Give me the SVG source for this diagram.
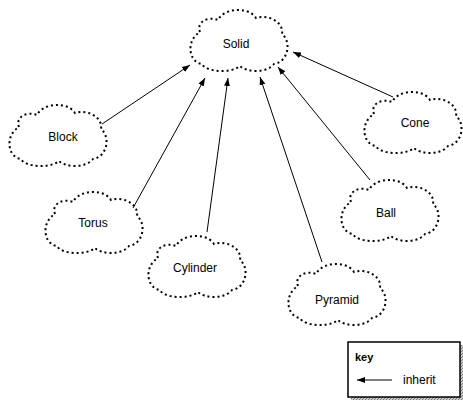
<svg xmlns="http://www.w3.org/2000/svg" width="463" height="403" viewBox="0 0 463 403">
<style>
.cloud{fill:none;stroke:#000;stroke-width:2;stroke-dasharray:2,3;stroke-linecap:butt}
.lbl{font-family:"Liberation Sans",Arial,sans-serif;font-size:12px;fill:#000;text-anchor:middle;dominant-baseline:central}
.edge{stroke:#000;stroke-width:1;fill:none;marker-end:url(#ah)}
</style>
<defs>
<marker id="ah" markerWidth="8" markerHeight="6" refX="8" refY="3" orient="auto" markerUnits="userSpaceOnUse">
<path d="M0,0 L8,3 L0,6 z" fill="#000"/>
</marker>
<path id="cl" d="M14,24 C10,14 22,8 32,12 C38,0 62,-2 70,10 C82,6 98,14 96,26 C106,34 102,54 88,56 C80,66 60,64 54,58 C44,66 20,64 16,56 C2,54 0,32 14,24 Z"/>
<pattern id="hatch" width="3" height="3" patternUnits="userSpaceOnUse">
<rect width="3" height="3" fill="#ccc"/>
<path d="M0,3 L3,0" stroke="#777" stroke-width="1"/>
</pattern>
</defs>
<g id="connectors">
<line class="edge" x1="102" y1="124" x2="190" y2="65"/>
<line class="edge" x1="133" y1="208" x2="205" y2="78"/>
<line class="edge" x1="207" y1="232" x2="228" y2="78"/>
<line class="edge" x1="322" y1="262" x2="260" y2="77"/>
<line class="edge" x1="370" y1="180" x2="278" y2="67"/>
<line class="edge" x1="393" y1="97" x2="293" y2="52"/>
</g>
<g id="solid"><use href="#cl" class="cloud" transform="translate(186,8)"/><text class="lbl" x="236" y="44">Solid</text></g>
<g id="block"><use href="#cl" class="cloud" transform="translate(5,103)"/><text class="lbl" x="63" y="137">Block</text></g>
<g id="cone"><use href="#cl" class="cloud" transform="translate(360,90)"/><text class="lbl" x="415" y="123">Cone</text></g>
<g id="torus"><use href="#cl" class="cloud" transform="translate(41,190)"/><text class="lbl" x="93" y="223">Torus</text></g>
<g id="ball"><use href="#cl" class="cloud" transform="translate(337,178)"/><text class="lbl" x="386" y="213">Ball</text></g>
<g id="cylinder"><use href="#cl" class="cloud" transform="translate(144,234)"/><text class="lbl" x="195" y="268">Cylinder</text></g>
<g id="pyramid"><use href="#cl" class="cloud" transform="translate(284,262)"/><text class="lbl" x="337" y="300">Pyramid</text></g>
<g id="key">
<rect x="351" y="345" width="112" height="55" fill="url(#hatch)"/>
<rect x="348" y="342" width="112" height="55" fill="#fff" stroke="#000" stroke-width="1.5"/>
<text x="355" y="357" font-family="Liberation Sans,Arial,sans-serif" font-size="11" font-weight="bold" dominant-baseline="central">key</text>
<line class="edge" x1="392" y1="380" x2="357" y2="380"/>
<text x="403" y="380" font-family="Liberation Sans,Arial,sans-serif" font-size="12" dominant-baseline="central">inherit</text>
</g>
</svg>
